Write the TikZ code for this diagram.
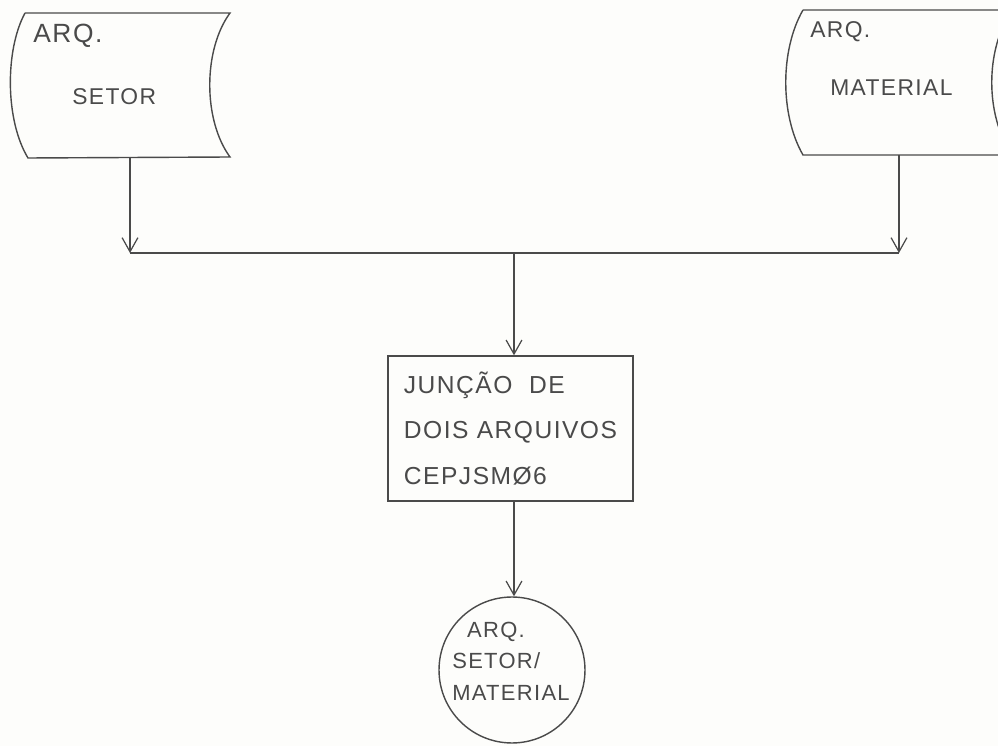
\documentclass[tikz,border=0pt]{standalone}
\usepackage{fontspec}
\setmainfont{Liberation Sans}
\newfontfamily\hand[LetterSpace=6]{Liberation Sans}
\usetikzlibrary{arrows.meta}
\definecolor{ink}{HTML}{4A4A4A}
\definecolor{paper}{HTML}{FDFDFB}
\begin{document}
\begin{tikzpicture}[x=0.02cm,y=-0.02cm,
  line/.style={draw=ink, line width=0.8pt},
  flow/.style={line, -{Straight Barb[length=8pt,width=9pt,line width=0.7pt]}},
  lbl/.style={text=ink, inner sep=0pt},
  big/.style={font=\hand\fontsize{15}{18}\selectfont},
  mid/.style={font=\hand\fontsize{13}{16}\selectfont},
]
\fill[paper] (0,0) rectangle (998,746);
\useasboundingbox (0,0) rectangle (998,746);
\clip (0,0) rectangle (998,746);

% on-line storage: sector file
\draw[line] (25,13) -- (230,13)
  .. controls (203,50) and (203,120) .. (230,157) -- (28,158)
  .. controls (5,120) and (5,50) .. (25,13);
\node[lbl, big, anchor=west] (setorarq) at (33,36) {ARQ.};
\node[lbl, mid, anchor=west] (setor) at (72,97) {SETOR};
\coordinate (setorout) at (130,158);

% on-line storage: material file
\draw[line] (803,10) -- (1012,10)
  .. controls (985,50) and (985,115) .. (1012,155) -- (803,155)
  .. controls (780,115) and (780,50) .. (803,10);
\node[lbl, mid, anchor=west] (matarq) at (810,32) {ARQ.};
\node[lbl, mid, anchor=west] (material) at (830,88) {MATERIAL};
\coordinate (matout) at (899,155);

% merge line
\coordinate (jl) at (130,253);
\coordinate (jr) at (899,253);
\coordinate (jc) at (514,253);
\draw[flow] (setorout) -- (jl);
\draw[flow] (matout) -- (jr);
\draw[line] (jl) -- (jr);

% process box
\node[line, rectangle, minimum width=4.9cm, minimum height=2.9cm, inner sep=0pt,
      text=ink, align=left, font=\hand\fontsize{14}{26}\selectfont]
  (juncao) at (510.5,428.5) {JUNÇÃO\ \ DE\\DOIS ARQUIVOS\\CEPJSMØ6};
\draw[flow] (jc) -- (jc |- juncao.north);

% output file
\node[line, circle, minimum size=2.92cm, inner sep=0pt] (saida) at (512,670) {};
\node[lbl, align=left, font=\hand\fontsize{12.5}{18}\selectfont]
  (saidatxt) at (511,661) {\ \ ARQ.\\SETOR/\\MATERIAL};
\draw[flow] (jc |- juncao.south) -- (jc |- saida.north);
\end{tikzpicture}
\end{document}
